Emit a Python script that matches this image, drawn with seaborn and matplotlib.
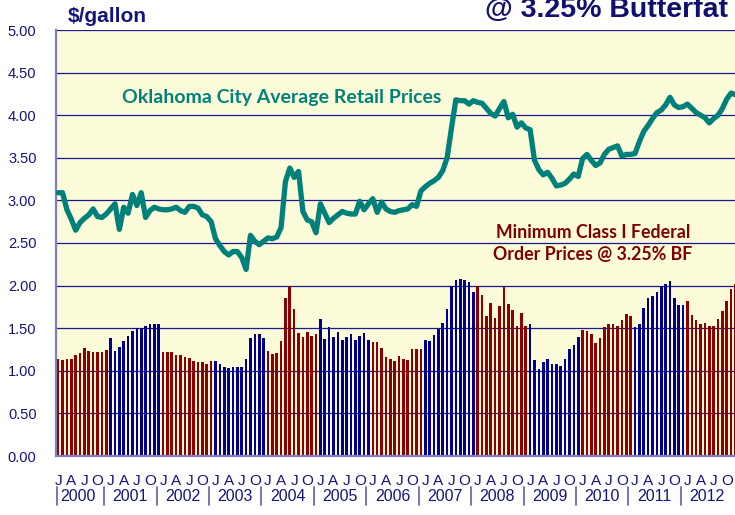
import numpy as np
import pandas as pd
import matplotlib
matplotlib.use('Agg')
import matplotlib.pyplot as plt
import seaborn as sns

sns.set_style('white')
plt.rcParams['font.family'] = ['Liberation Sans', 'DejaVu Sans']

# Minimum Class I federal order prices @ 3.25% BF ($/gallon), monthly
class1_2000 = [1.14, 1.13, 1.14, 1.14, 1.19, 1.21, 1.27, 1.23, 1.22, 1.22, 1.22, 1.24]
class1_2001 = [1.39, 1.23, 1.28, 1.35, 1.41, 1.47, 1.50, 1.50, 1.52, 1.55, 1.55, 1.55]
class1_2002 = [1.22, 1.22, 1.22, 1.19, 1.18, 1.16, 1.15, 1.11, 1.10, 1.10, 1.08, 1.11]
class1_2003 = [1.11, 1.08, 1.04, 1.03, 1.04, 1.04, 1.04, 1.14, 1.38, 1.43, 1.43, 1.39]
class1_2004 = [1.23, 1.20, 1.21, 1.35, 1.86, 2.00, 1.72, 1.44, 1.40, 1.46, 1.41, 1.43]
class1_2005 = [1.61, 1.37, 1.51, 1.40, 1.46, 1.36, 1.40, 1.43, 1.36, 1.41, 1.44, 1.36]
class1_2006 = [1.34, 1.34, 1.27, 1.16, 1.14, 1.12, 1.17, 1.14, 1.13, 1.26, 1.26, 1.26]
class1_2007 = [1.36, 1.35, 1.42, 1.49, 1.56, 1.73, 2.00, 2.07, 2.08, 2.06, 2.04, 1.92]
class1_2008 = [2.00, 1.89, 1.64, 1.80, 1.62, 1.76, 1.98, 1.78, 1.71, 1.53, 1.68, 1.52]
class1_2009 = [1.55, 1.13, 1.02, 1.10, 1.14, 1.08, 1.08, 1.06, 1.14, 1.26, 1.30, 1.40]
class1_2010 = [1.48, 1.47, 1.43, 1.33, 1.38, 1.51, 1.55, 1.55, 1.53, 1.60, 1.67, 1.64]
class1_2011 = [1.51, 1.55, 1.74, 1.85, 1.88, 1.92, 1.98, 2.02, 2.05, 1.86, 1.77, 1.77]
class1_2012 = [1.82, 1.65, 1.60, 1.55, 1.56, 1.52, 1.53, 1.61, 1.70, 1.82, 1.96, 2.02]

# Oklahoma City average retail prices ($/gallon), monthly
okc_2000 = [3.09, 3.09, 2.89, 2.78, 2.65, 2.74, 2.79, 2.83, 2.90, 2.81, 2.80, 2.84]
okc_2001 = [2.90, 2.96, 2.66, 2.92, 2.85, 3.07, 2.94, 3.09, 2.80, 2.88, 2.92, 2.90]
okc_2002 = [2.89, 2.89, 2.90, 2.92, 2.88, 2.86, 2.93, 2.93, 2.91, 2.83, 2.81, 2.75]
okc_2003 = [2.55, 2.47, 2.40, 2.36, 2.40, 2.40, 2.33, 2.19, 2.59, 2.52, 2.48, 2.52]
okc_2004 = [2.56, 2.55, 2.57, 2.68, 3.22, 3.38, 3.27, 3.34, 2.87, 2.77, 2.75, 2.62]
okc_2005 = [2.96, 2.85, 2.74, 2.79, 2.83, 2.87, 2.85, 2.84, 2.84, 2.99, 2.89, 2.96]
okc_2006 = [3.02, 2.86, 2.98, 2.90, 2.87, 2.86, 2.88, 2.89, 2.90, 2.95, 2.93, 3.11]
okc_2007 = [3.16, 3.20, 3.23, 3.27, 3.35, 3.50, 3.85, 4.18, 4.17, 4.17, 4.13, 4.17]
okc_2008 = [4.15, 4.14, 4.08, 4.02, 3.99, 4.08, 4.16, 3.97, 4.01, 3.86, 3.91, 3.85]
okc_2009 = [3.83, 3.47, 3.36, 3.30, 3.33, 3.26, 3.17, 3.18, 3.20, 3.25, 3.31, 3.28]
okc_2010 = [3.49, 3.54, 3.47, 3.41, 3.44, 3.54, 3.60, 3.62, 3.64, 3.52, 3.54, 3.54]
okc_2011 = [3.55, 3.69, 3.81, 3.88, 3.96, 4.03, 4.06, 4.12, 4.21, 4.12, 4.09, 4.10]
okc_2012 = [4.13, 4.08, 4.03, 4.00, 3.97, 3.91, 3.96, 4.00, 4.08, 4.19, 4.26, 4.24]

years = [str(y) for y in range(2000, 2013)]
quarter_labels = ['J', 'A', 'J', 'O']

class1 = (class1_2000 + class1_2001 + class1_2002 + class1_2003 + class1_2004 +
          class1_2005 + class1_2006 + class1_2007 + class1_2008 + class1_2009 +
          class1_2010 + class1_2011 + class1_2012)
okc = (okc_2000 + okc_2001 + okc_2002 + okc_2003 + okc_2004 + okc_2005 +
       okc_2006 + okc_2007 + okc_2008 + okc_2009 + okc_2010 + okc_2011 + okc_2012)

n = len(class1)
df = pd.DataFrame({
    'month': np.arange(n),
    'class1': class1,
    'okc': okc,
    'grp': ['r' if (i // 12) % 2 == 0 else 'b' for i in range(n)],
})

navy = '#14147E'
W, H = 735, 515
fig = plt.figure(figsize=(W / 100, H / 100), dpi=100)
fig.patch.set_facecolor('white')
ax = fig.add_axes([56 / W, 59 / H, 681.7 / W, 426 / H])
ax.set_facecolor('#FBFBDA')

sns.barplot(data=df, x='month', y='class1', hue='grp', dodge=False,
            palette={'r': '#8C0000', 'b': '#00008C'}, width=0.6,
            saturation=1, linewidth=0, legend=False, ax=ax, zorder=2)
sns.lineplot(x=df['month'].values, y=df['okc'].values, color='#00807A',
             lw=3.8, ax=ax, zorder=3, solid_joinstyle='round', solid_capstyle='round')

ax.set_xlim(-0.5, n - 0.5)
ax.set_ylim(0, 5)
ax.set_xlabel('')
ax.set_ylabel('')

# y axis
yt = np.arange(0, 5.01, 0.5)
ax.set_yticks(yt)
ax.set_yticklabels([f'{v:.2f}' for v in yt])
ax.tick_params(axis='y', length=0, pad=14, labelsize=10.5, labelcolor=navy)
ax.yaxis.grid(True, color='#1A1A8C', lw=0.9)
ax.xaxis.grid(False)
ax.set_axisbelow(True)

# x axis ticks
ax.set_xticks(np.arange(0, n, 3))
ax.set_xticklabels([''] * len(np.arange(0, n, 3)))
ax.set_xticks(np.arange(n), minor=True)
ax.tick_params(axis='x', which='major', length=6, width=0.9, color='#222222', direction='out')
ax.tick_params(axis='x', which='minor', length=4, width=0.9, color='#888888', direction='out')

for s in ['top', 'right']:
    ax.spines[s].set_visible(False)
for s in ['left', 'bottom']:
    ax.spines[s].set_color('#7F7FBF')
    ax.spines[s].set_linewidth(1.6)

trans = ax.get_xaxis_transform()
for i in range(0, n, 3):
    ax.text(i, -0.0587, quarter_labels[(i // 3) % 4], transform=trans,
            ha='center', va='center', fontsize=11, color=navy)
for k, yr in enumerate(years):
    ax.text(12 * k + 4.5, -0.0962, yr, transform=trans, ha='center',
            va='center', fontsize=11.5, color=navy)
    xs = -0.3 if k == 0 else 12 * k - 1.5
    ax.plot([xs, xs], [-0.073, -0.115], transform=trans, clip_on=False,
            color='#6A6AB8', lw=1.3)

# titles and annotations (the big title is cropped at the top, as in the source)
fig.text(107 / W, 1 - 17 / H, '$/gallon', ha='center', va='center',
         fontsize=15, fontweight='bold', color=navy)
fig.text(728 / W, 1 - 17 / H, '@ 3.25% Butterfat', ha='right', va='baseline',
         fontsize=20.5, fontweight='bold', color='#10106E')
fig.text(282 / W, 1 - 98 / H, 'Oklahoma City Average Retail Prices',
         ha='center', va='center', fontsize=14, fontweight='bold',
         color='#00827A', family=['Lato', 'DejaVu Sans'])
fig.text(593 / W, 1 - 232 / H, 'Minimum Class I Federal',
         ha='center', va='center', fontsize=12.8, fontweight='bold',
         color='#800000', family=['Lato', 'DejaVu Sans'])
fig.text(593 / W, 1 - 255 / H, 'Order Prices @ 3.25% BF',
         ha='center', va='center', fontsize=12.8, fontweight='bold',
         color='#800000', family=['Lato', 'DejaVu Sans'])

fig.savefig('out.png', dpi=100)
